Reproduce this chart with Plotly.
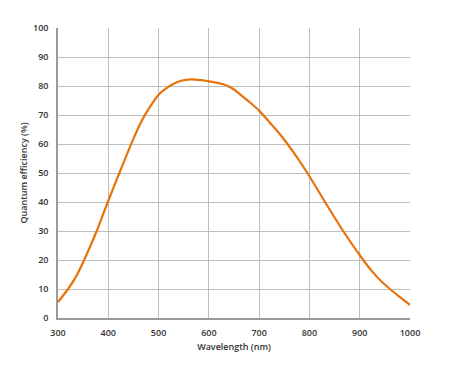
import plotly.graph_objects as go

wavelength = [300, 320, 335, 352, 377, 399, 422, 448, 465, 480, 500, 515, 530, 545, 564, 585, 600,
              620, 635, 650, 665, 682, 700, 720, 745, 775, 796, 831, 867, 907, 925, 945, 960, 980, 1000]
efficiency = [5.5, 10, 14, 20, 30, 40, 50, 61, 67.5, 72, 77, 79.2, 80.8, 81.8, 82.3, 82.0, 81.6,
              81.0, 80.2, 78.8, 76.7, 74.3, 71.5, 67.6, 62.6, 55.5, 50, 40, 30, 20, 16, 12.3, 10, 7.2, 4.5]
x_ticks = [300, 400, 500, 600, 700, 800, 900, 1000]
y_ticks = [0, 10, 20, 30, 40, 50, 60, 70, 80, 90, 100]

fig = go.Figure()
fig.add_trace(go.Scatter(
    x=wavelength, y=efficiency, mode="lines",
    line=dict(color="#E8720C", width=2.2, shape="spline", smoothing=0.6),
    hoverinfo="skip", showlegend=False,
))

font = dict(family="Open Sans, Liberation Sans, sans-serif", size=9, color="#333333", weight=600)

fig.update_layout(
    width=450, height=375,
    margin=dict(l=50, r=48, t=20, b=65, autoexpand=False),
    paper_bgcolor="white", plot_bgcolor="white",
    font=font,
    xaxis=dict(
        range=[300, 1000], tickvals=x_ticks, ticktext=[str(v) for v in x_ticks],
        showgrid=True, gridcolor="#BEBEBE", gridwidth=1.3,
        showline=True, linecolor="#9A9A9A", linewidth=1.5,
        zeroline=False, ticks="", ticklen=0, ticklabelstandoff=5,
        title=dict(text="Wavelength (nm)", font=font, standoff=6),
        automargin=False, fixedrange=True,
    ),
    yaxis=dict(
        range=[0, 100], tickvals=y_ticks,
        showgrid=True, gridcolor="#BEBEBE", gridwidth=1.3,
        showline=True, linecolor="#9A9A9A", linewidth=1.5,
        zeroline=False, ticks="", ticklen=0, ticklabelstandoff=6,
        title=dict(text="Quantum efficiency (%)", font=font, standoff=4),
        automargin=False, fixedrange=True,
    ),
)

fig.write_html("out.html", config={"displayModeBar": False})
